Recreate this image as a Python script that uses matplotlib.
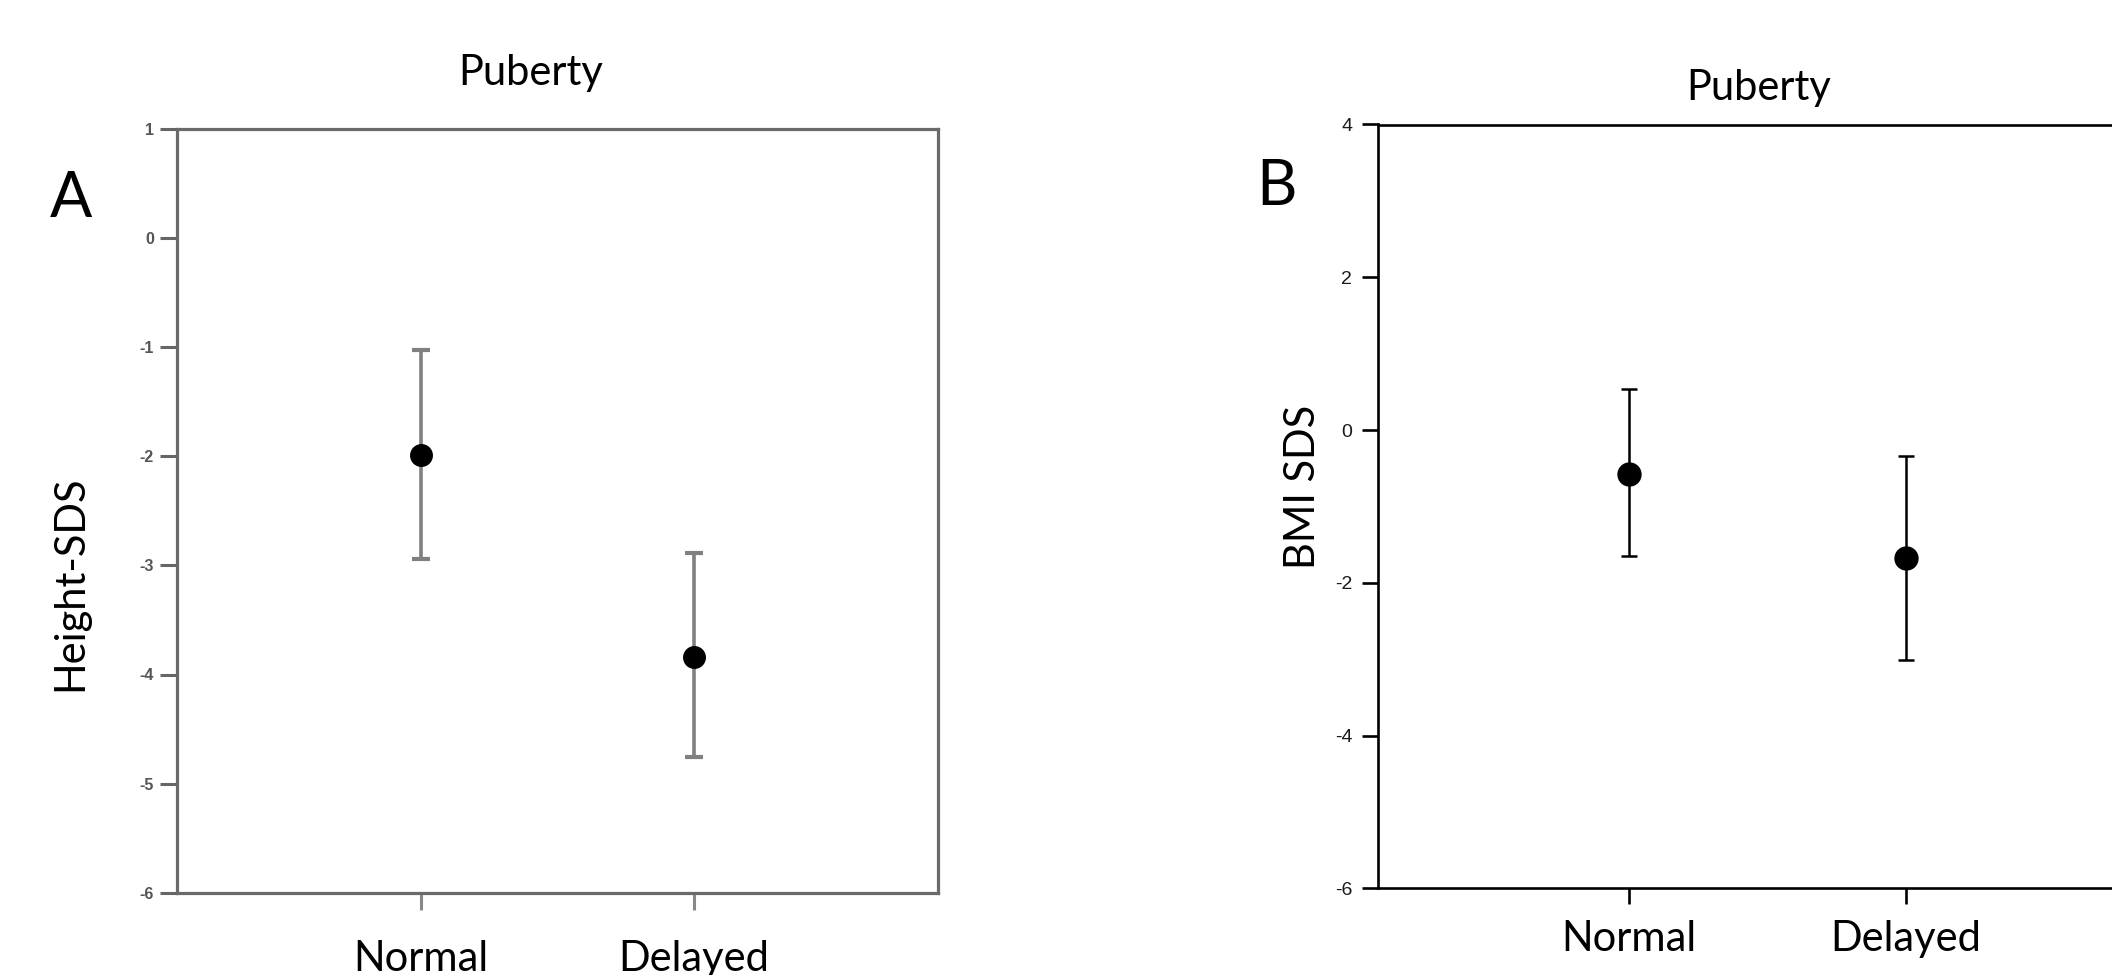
import matplotlib
matplotlib.use("Agg")
import matplotlib.pyplot as plt

W, H = 2112, 975

groups = ["Normal", "Delayed"]

# panel A: height SDS (mean, lower end, upper end of bar)
height_mean = [-1.99, -3.84]
height_low = [-2.94, -4.76]
height_high = [-1.03, -2.89]
height_ticks = [1, 0, -1, -2, -3, -4, -5, -6]

# panel B: BMI SDS
bmi_mean = [-0.58, -1.68]
bmi_low = [-1.65, -3.01]
bmi_high = [0.54, -0.34]
bmi_ticks = [4, 2, 0, -2, -4, -6]

big_font = "Lato"
tick_font = "Liberation Sans"


def fx(x):
    return x / W


def fy(y):
    return 1 - y / H


fig = plt.figure(figsize=(W / 100, H / 100), dpi=100)
fig.patch.set_facecolor("white")

# ---------- panel A ----------
axA = fig.add_axes([fx(176.7), fy(892.7), (938 - 176.7) / W, (892.7 - 129) / H])
xs = list(range(len(groups)))
errA = [[m - lo for m, lo in zip(height_mean, height_low)],
        [hi - m for m, hi in zip(height_mean, height_high)]]
axA.errorbar(xs, height_mean, yerr=errA, fmt="none", ecolor="#808080",
             elinewidth=2.6, capsize=6.8, capthick=3, zorder=2)
axA.plot(xs, height_mean, "o", color="black", markersize=15.5, zorder=3)
axA.set_xlim(-0.897, 1.897)
axA.set_ylim(-6, 1)
axA.set_yticks(height_ticks)
axA.set_yticklabels([str(t) for t in height_ticks], fontsize=11.5,
                    fontweight="bold", color="#555555", fontfamily=tick_font)
axA.set_xticks(xs)
axA.set_xticklabels(groups, fontsize=30, fontfamily=big_font)
for s in axA.spines.values():
    s.set_color("#6a6a6a")
    s.set_linewidth(2.3)
axA.tick_params(axis="y", direction="out", length=12.5, width=2.2,
                color="#666666", pad=4)
axA.tick_params(axis="x", direction="out", length=12, width=2.2,
                color="#888888", pad=22)

# ---------- panel B ----------
axB = fig.add_axes([fx(1378), fy(888.3), 779 / W, (888.3 - 124.5) / H])
errB = [[m - lo for m, lo in zip(bmi_mean, bmi_low)],
        [hi - m for m, hi in zip(bmi_mean, bmi_high)]]
axB.errorbar(xs, bmi_mean, yerr=errB, fmt="none", ecolor="black",
             elinewidth=1.8, capsize=6.1, capthick=1.8, zorder=2)
axB.plot(xs, bmi_mean, "o", color="black", markersize=16.5, zorder=3)
axB.set_xlim(-0.908, 1.908)
axB.set_ylim(-6, 4)
axB.set_yticks(bmi_ticks)
axB.set_yticklabels([str(t) for t in bmi_ticks], fontsize=14,
                    color="#1a1a1a", fontfamily=tick_font)
axB.set_xticks(xs)
axB.set_xticklabels(groups, fontsize=30, fontfamily=big_font)
for s in axB.spines.values():
    s.set_color("black")
    s.set_linewidth(1.9)
axB.tick_params(axis="both", direction="out", length=11.5, width=1.9,
                color="black")
axB.tick_params(axis="y", pad=7)
axB.tick_params(axis="x", pad=11)

# ---------- titles, axis labels, panel letters ----------
fig.text(fx(531), fy(85), "Puberty", fontsize=30, fontfamily=big_font,
         ha="center", va="baseline")
fig.text(fx(1759), fy(100), "Puberty", fontsize=30, fontfamily=big_font,
         ha="center", va="baseline")
fig.text(fx(70), fy(583), "Height-SDS", fontsize=30, fontfamily=big_font,
         rotation=90, ha="center", va="center")
fig.text(fx(1303), fy(487), "BMI SDS", fontsize=30, fontfamily=big_font,
         rotation=90, ha="center", va="center")
fig.text(fx(71), fy(217), "A", fontsize=45, fontfamily=big_font,
         ha="center", va="baseline")
fig.text(fx(1277), fy(205), "B", fontsize=45, fontfamily=big_font,
         ha="center", va="baseline")

fig.savefig("out.png", dpi=100)
